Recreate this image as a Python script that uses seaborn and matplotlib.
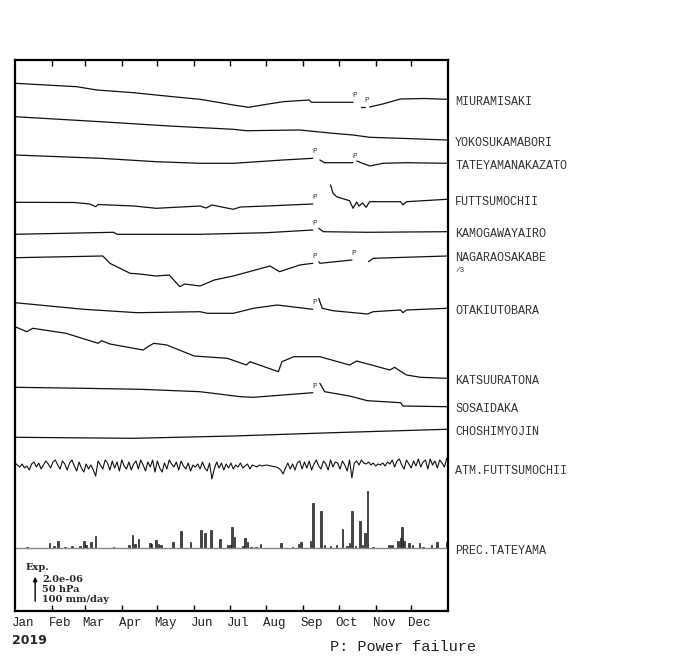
# Strain records, Boso / Miura area, 2019

import numpy as np
import pandas as pd
import seaborn as sns
import matplotlib.pyplot as plt
import matplotlib.transforms as mtransforms

nan = np.nan

# strain traces, chart units (28 units = 2.0e-06), deviation from each baseline
MIURA_DAYS = [0, 52, 69, 100, 133, 156, 173, 184, 197, 212, 226, 248, 250, 285, 288, 292, 295, 297, 299, 310, 325, 345, 364]
MIURA = [18.7, 15.3, 12, 9.3, 5.3, 2.7, -0.7, -3, -5.3, -2.3, 0.3, 2, -0.3, -0.3, nan, -4.7, -4.7, nan, -5, -2, 3, 3.5, 2.7]

YOKO_DAYS = [0, 72, 130, 184, 195, 240, 268, 285, 299, 325, 364]
YOKO = [26.3, 21.3, 17, 13.7, 12.3, 13, 9.7, 8, 5.7, 4.7, 3]

TATE_DAYS = [0, 72, 119, 156, 184, 226, 251, 254, 257, 261, 285, 286, 288, 299, 310, 330, 364]
TATE = [11, 7.7, 4.3, 2.7, 2.7, 6, 7.7, nan, 6, 3.3, 3.3, nan, 5, 0, 2.7, 3.3, 2.7]

FUTT_DAYS = [0, 50, 63, 68, 70, 100, 119, 140, 156, 161, 166, 184, 190, 212, 251, 257, 266, 268, 271, 282,
             285, 288, 290, 293, 296, 299, 325, 327, 330, 364]
FUTT = [-0.3, -0.5, -2, -4.7, -2.5, -4, -6.3, -5, -4, -6, -3, -7.3, -5, -4, -2, nan, 17, 9, 5.3, 1.3,
        -6.3, 0, -4, -1, -5.3, 0.3, 0.3, -3, 0.3, 2.7]

KAMO_DAYS = [0, 83, 86, 156, 212, 251, 253, 256, 260, 297, 364]
KAMO = [-0.3, 1.7, -0.3, -0.3, 1.3, 4, nan, 5.7, 2.3, 1.7, 2.3]

NAGA_DAYS = [0, 74, 80, 97, 105, 119, 130, 139, 143, 156, 168, 184, 215, 223, 240, 251, 254, 256, 257, 284,
             290, 298, 302, 364]
NAGA = [0.3, 2, -5.3, -15.3, -16, -18, -17, -28.7, -26, -28, -22, -18, -8, -13.7, -7, -5.3, nan, -3.7, -5.3, -2,
        nan, -3.7, -0.3, 2]

OTAKI_DAYS = [0, 58, 103, 156, 162, 184, 201, 221, 251, 254, 256, 259, 268, 297, 302, 325, 327, 330, 364]
OTAKI = [8.3, 1.7, -1.7, -0.7, -2.3, -2.3, 2.7, 6, 1.7, nan, 12.7, 2.7, 0.3, -3, -0.7, 1, -1.7, 1, 2.7]

KATSU_DAYS = [0, 10, 15, 43, 70, 73, 80, 108, 112, 117, 128, 151, 179, 195, 198, 222, 225, 235, 257, 282,
              288, 316, 320, 330, 342, 364]
KATSU = [54.3, 49.3, 52.7, 47.7, 37.7, 40.3, 37, 31, 34.3, 37.7, 36, 25, 22.7, 16, 19.3, 9.3, 19.3, 24.3, 24.3, 16,
         20, 11, 13.7, 6, 3.7, 2.7]

SOSAI_DAYS = [0, 58, 106, 156, 190, 201, 251, 254, 257, 261, 282, 297, 325, 327, 364]
SOSAI = [21.7, 20.7, 19.7, 17.3, 12.3, 11.7, 16.3, nan, 25.7, 17.3, 13, 8.3, 6.3, 3, 2.3]

CHOSHI_DAYS = [0, 100, 184, 268, 364]
CHOSHI = [-5.3, -6.3, -4, -0.7, 2.7]

# atmospheric pressure at Futtsumochii, every 2 days (28 units = 50 hPa)
ATM = [3, 1, -1, 2, -2, 0, -4, 2, 4, -1, 3, -3, 1, 5, 2,
       -2, 4, 6, 1, -3, 5, 2, -4, 3, 6, 0, -5, 4, -2, -6,
       2, -3, 1, -4, -10, 5, 1, -3, 6, 3, -4, 5, -2, 4, -5,
       6, 0, -3, 4, -4, 2, 5, -3, 6, 1, -5, 4, -1, 6, -6,
       5, -2, -6, 3, -3, 6, 2, -1, 4, -4, 5, 0, -3, 3, -5,
       1, -1, 2, -3, 4, -2, -5, 3, -13, -3, 4, -2, 3, -4, 2,
       -2, 3, -3, 1, -1, 3, -2, 0, 2, -3, 1, 0, -1, 1, 0,
       0.5, 1, 0.5, 0, -0.5, -1, -2, -4, -8, -2, 3, -3, 2, -4, 3,
       5, -3, 4, -2, 5, -4, 2, 6, 0, -3, 5, 2, -4, 6, -1,
       4, 3, -3, 5, 1, -5, 6, -12, 3, 5, 1, 6, 3, 2, 4,
       1, 3, 0, 2, 1, 3, 0, 4, 2, 6, -1, 5, 7, 1, -3,
       6, 2, -2, 5, 0, 7, -1, 4, 6, -3, 7, 1, 5, -2, 6,
       3, -1, 8]
ATM_DAYS = np.arange(len(ATM)) * 2

# daily precipitation at Tateyama (mm/day, 28 units = 100 mm/day)
PREC_DAYS = [10, 29, 33, 36, 42, 48, 55, 58, 60, 64, 68, 83, 96, 99, 101, 104, 114, 115, 119, 121,
             123, 133, 140, 148, 157, 160, 165, 173, 179, 181, 183, 185, 192, 194, 196, 199, 203, 207, 224, 234,
             239, 241, 249, 251, 258, 261, 266, 271, 276, 280, 282, 284, 287, 291, 293, 295, 297, 302, 315, 318,
             323, 325, 326, 328, 332, 335, 341, 344, 351, 356, 364]
PREC_MM = [5, 17, 8, 24, 5, 7, 7, 24, 12, 23, 42, 5, 12, 46, 14, 31, 17, 14, 29, 14,
           10, 21, 62, 20, 65, 54, 65, 33, 12, 10, 74, 39, 6, 36, 21, 5, 5, 14, 17, 5,
           14, 21, 24, 161, 133, 12, 6, 10, 68, 6, 17, 131, 7, 98, 12, 54, 205, 5, 10, 12,
           24, 36, 74, 26, 17, 12, 19, 5, 12, 21, 21]

STATIONS = ["MIURAMISAKI", "YOKOSUKAMABORI", "TATEYAMANAKAZATO", "FUTTSUMOCHII", "KAMOGAWAYAIRO",
            "NAGARAOSAKABE", "OTAKIUTOBARA", "KATSUURATONA", "SOSAIDAKA", "CHOSHIMYOJIN"]
TRACES = [(MIURA_DAYS, MIURA), (YOKO_DAYS, YOKO), (TATE_DAYS, TATE), (FUTT_DAYS, FUTT), (KAMO_DAYS, KAMO),
          (NAGA_DAYS, NAGA), (OTAKI_DAYS, OTAKI), (KATSU_DAYS, KATSU), (SOSAI_DAYS, SOSAI), (CHOSHI_DAYS, CHOSHI)]

# power failures (last day before each gap)
P_MARKS = {"MIURAMISAKI": [285, 295], "TATEYAMANAKAZATO": [251, 285], "FUTTSUMOCHII": [251],
           "KAMOGAWAYAIRO": [251], "NAGARAOSAKABE": [251, 284], "OTAKIUTOBARA": [251], "SOSAIDAKA": [251]}

MONTHS = ["Jan", "Feb", "Mar", "Apr", "May", "Jun", "Jul", "Aug", "Sep", "Oct", "Nov", "Dec"]
MONTH_STARTS = [0, 31, 59, 90, 120, 151, 181, 212, 243, 273, 304, 334]

# layout: baseline heights of each trace (chart units from the bottom frame)
BASES = [509, 468, 445, 409, 377, 353, 300, 230, 202, 179]
ATM_BASE = 145
PREC_BASE = 63
PREC_SCALE = 0.28

sns.set_theme(style="white")
plt.rcParams["font.family"] = ["Liberation Mono", "DejaVu Sans"]

fig = plt.figure(figsize=(7, 6.7), dpi=100)
ax = fig.add_axes([15 / 700, 59 / 670, 433 / 700, 551 / 670])


def draw_trace(days, vals, base, lw=0.9):
    df = pd.DataFrame({"day": days, "val": vals})
    df["seg"] = df["val"].isna().cumsum()
    df = df.dropna()
    for _, g in df.groupby("seg"):
        sns.lineplot(x=g["day"], y=g["val"] + base, color="#111111", lw=lw, ax=ax)


for name, (days, vals), base in zip(STATIONS, TRACES, BASES):
    draw_trace(days, vals, base)
    ax.text(371, base, name, fontsize=8.5, va="center", ha="left", color="#333333", clip_on=False)
    for d in P_MARKS.get(name, []):
        v = vals[days.index(d)]
        ax.text(d + 1.5, base + v + 6.5, "P", fontsize=5.5, ha="center", va="center", color="#333333")

ax.text(371, BASES[5] - 12, "/3", fontsize=5.5, va="center", ha="left", color="#333333", clip_on=False)

# atmospheric pressure
draw_trace(ATM_DAYS, ATM, ATM_BASE, lw=0.8)
ax.text(371, ATM_BASE - 5, "ATM.FUTTSUMOCHII", fontsize=8.5, va="center", ha="left", color="#333333", clip_on=False)

# precipitation
ax.plot([0, 365], [PREC_BASE, PREC_BASE], color="#888888", lw=1)
ax.bar(PREC_DAYS, np.array(PREC_MM) * PREC_SCALE, bottom=PREC_BASE, width=1.4,
       color="#444444", edgecolor="black", linewidth=0.4)
ax.text(371, PREC_BASE - 3, "PREC.TATEYAMA", fontsize=8.5, va="center", ha="left", color="#333333", clip_on=False)

# scale legend
ax.annotate("", xy=(17, 37), xytext=(17, 7),
            arrowprops=dict(arrowstyle="-|>", lw=1, color="black", mutation_scale=6))
ax.text(8.5, 43, "Exp.", fontsize=7, fontweight="bold", family="DejaVu Serif", va="center")
for y, s in zip([31, 21, 11], ["2.0e-06", "50 hPa", "100 mm/day"]):
    ax.text(23, y, s, fontsize=7, fontweight="bold", family="DejaVu Serif", va="center")

ax.set_xlim(0, 365)
ax.set_ylim(0, 551)
ax.set_xlabel("")
ax.set_ylabel("")
ax.set_yticks([])
ax.set_xticks(MONTH_STARTS[1:])
ax.tick_params(axis="x", direction="in", top=True, bottom=True, length=4, width=1,
               color="black", labelbottom=False)
for sp in ax.spines.values():
    sp.set_linewidth(1.6)
    sp.set_color("black")

lab_tr = mtransforms.offset_copy(ax.get_xaxis_transform(), fig=fig, x=-3, y=-6, units="dots")
for d, m in zip(MONTH_STARTS, MONTHS):
    ax.text(d, 0, m, transform=lab_tr, ha="left", va="top", fontsize=9, color="#222222")

fig.text(12 / 700, 1 - 640 / 670, "2019", fontsize=9, fontweight="bold", family="DejaVu Sans", va="center")
fig.text(330 / 700, 1 - 647 / 670, "P: Power failure", fontsize=11, va="center", color="#222222")

fig.savefig("out.png", dpi=100)
